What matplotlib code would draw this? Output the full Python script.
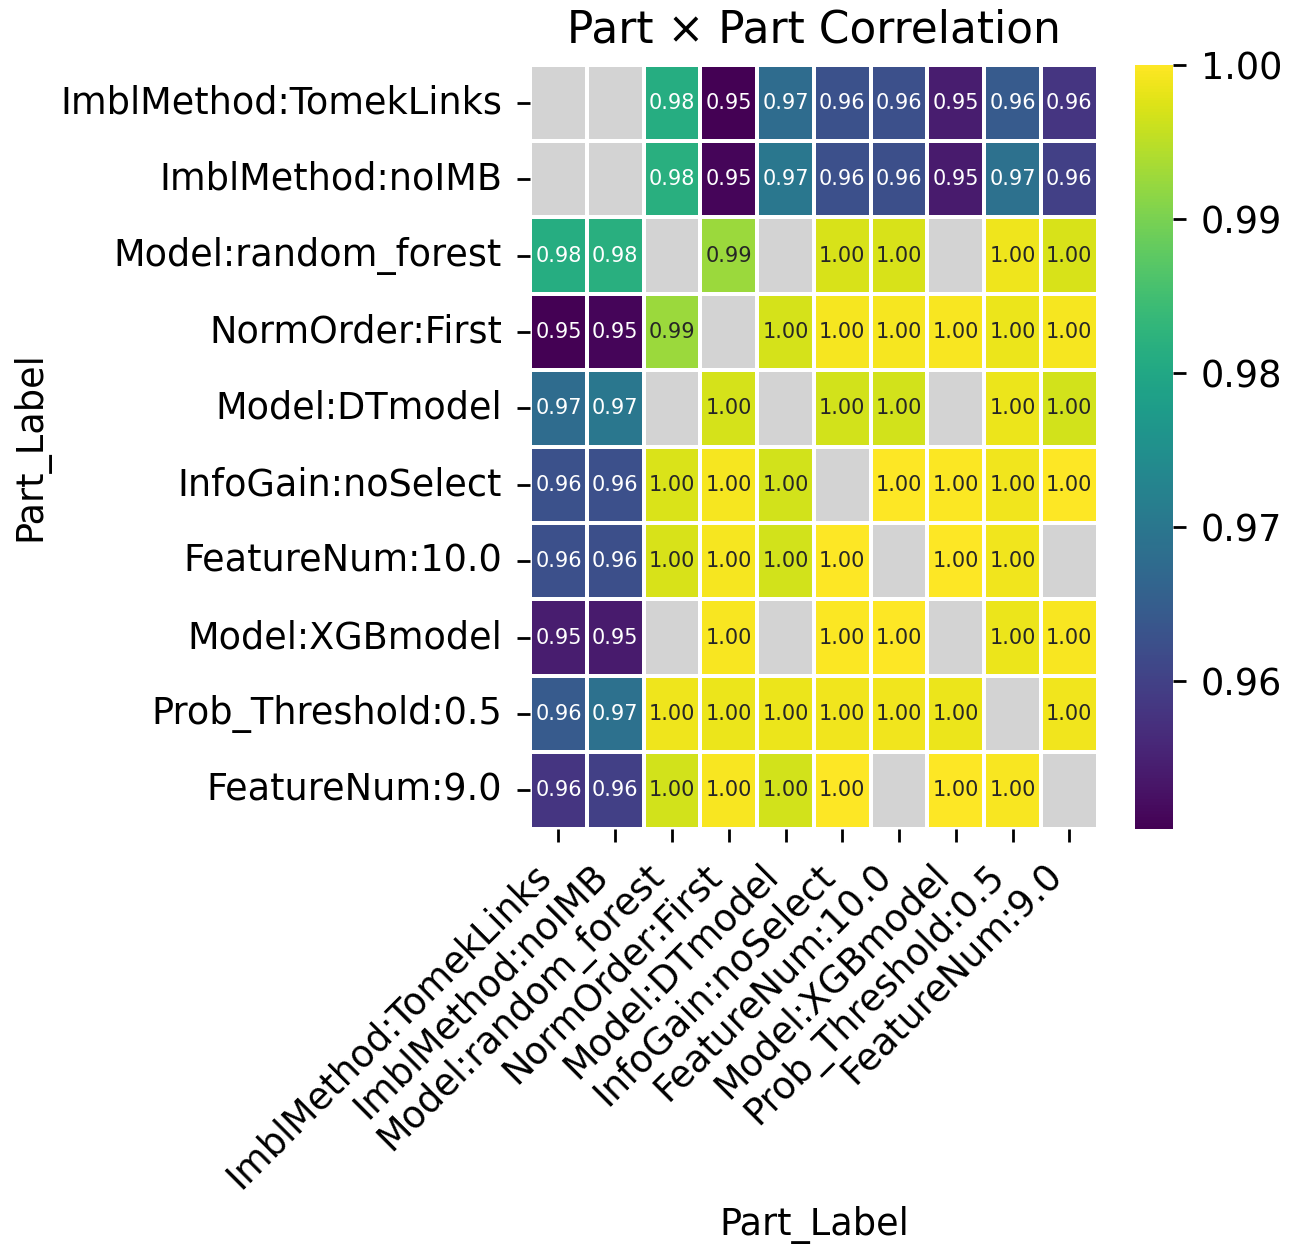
import numpy as np
import matplotlib
matplotlib.use("Agg")
import matplotlib.pyplot as plt
import seaborn as sns

labels = ["ImblMethod:TomekLinks", "ImblMethod:noIMB", "Model:random_forest",
          "NormOrder:First", "Model:DTmodel", "InfoGain:noSelect",
          "FeatureNum:10.0", "Model:XGBmodel", "Prob_Threshold:0.5", "FeatureNum:9.0"]

nan = np.nan
row_tomek  = [nan, nan, 0.9811, 0.9504, 0.9678, 0.9628, 0.9625, 0.9544, 0.9645, 0.9580]
row_noimb  = [nan, nan, 0.9816, 0.9510, 0.9700, 0.9626, 0.9624, 0.9540, 0.9688, 0.9598]
row_rf     = [0.9811, 0.9816, nan, 0.9926, nan, 0.9970, 0.9970, nan, 0.9988, 0.9970]
row_norm   = [0.9504, 0.9510, 0.9926, nan, 0.9968, 0.9993, 0.9993, 0.9996, 0.9986, 0.9993]
row_dt     = [0.9678, 0.9700, nan, 0.9968, nan, 0.9966, 0.9966, nan, 0.9986, 0.9966]
row_info   = [0.9628, 0.9626, 0.9972, 0.9993, 0.9966, nan, 1.0000, 0.9998, 0.9990, 0.9999]
row_fn10   = [0.9625, 0.9624, 0.9970, 0.9993, 0.9966, 1.0000, nan, 1.0000, 0.9990, nan]
row_xgb    = [0.9544, 0.9540, nan, 0.9996, nan, 0.9998, 1.0000, nan, 0.9985, 0.9996]
row_prob   = [0.9645, 0.9688, 0.9988, 0.9986, 0.9986, 0.9990, 0.9990, 0.9985, nan, 0.9990]
row_fn9    = [0.9580, 0.9598, 0.9966, 0.9996, 0.9966, 0.9999, nan, 1.0000, 0.9996, nan]

data = np.array([row_tomek, row_noimb, row_rf, row_norm, row_dt,
                 row_info, row_fn10, row_xgb, row_prob, row_fn9])

fig = plt.figure(figsize=(6.48, 6.22), dpi=200)
ax = fig.add_axes([0.409, 0.334, 0.438, 0.614])
cax = fig.add_axes([0.876, 0.334, 0.029, 0.614])
ax.set_facecolor("lightgray")

sns.heatmap(data, ax=ax, cbar_ax=cax, cmap="viridis", annot=True, fmt=".2f",
            annot_kws={"fontsize": 7.5}, linewidths=0.8, linecolor="white",
            xticklabels=labels, yticklabels=labels,
            vmin=np.nanmin(data), vmax=np.nanmax(data))

ax.set_facecolor("lightgray")
ax.tick_params(axis="both", labelsize=13.2, length=4.7, width=1, pad=5.4)
ax.set_xticklabels(labels, rotation=45, ha="right")
ax.set_yticklabels(labels, rotation=0)
ax.set_xlabel("Part_Label", fontsize=13.2)
ax.set_ylabel("Part_Label", fontsize=13.2)
ax.set_title("Part × Part Correlation", fontsize=15.8, pad=8)

cax.set_yticks([0.96, 0.97, 0.98, 0.99, 1.00])
cax.set_yticklabels(["0.96", "0.97", "0.98", "0.99", "1.00"])
cax.tick_params(labelsize=13.2, length=4.7, width=1, pad=5.4)

fig.savefig("out.png", dpi=200)
